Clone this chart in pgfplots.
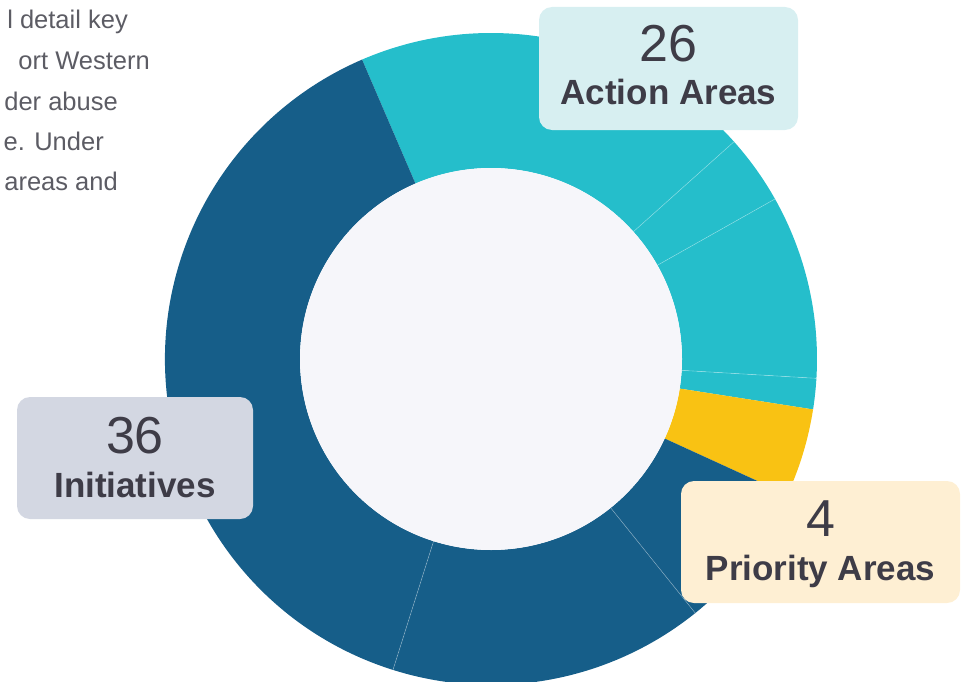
\documentclass[border=0pt]{standalone}
\usepackage{fontspec}
\setmainfont{Liberation Sans}
\usepackage{pgfplots}
\usepackage{pgfplotstable}
\pgfplotsset{compat=1.18}
\definecolor{bluec}{HTML}{165E89}
\definecolor{tealc}{HTML}{25BECB}
\definecolor{yelc}{HTML}{F9C213}
\definecolor{innerc}{HTML}{F6F6FA}
\definecolor{boxA}{HTML}{D7EFF1}
\definecolor{boxI}{HTML}{D3D7E2}
\definecolor{boxP}{HTML}{FEEFD3}
\definecolor{txtc}{HTML}{3E3C47}
\definecolor{parac}{HTML}{5C5C64}

% segment sizes in degrees, clockwise from the top boundary (113.3 deg)
\pgfplotstableread{
value color
71.5 tealc
12.4 tealc
32.8 tealc
5.5 tealc
15.7 yelc
26.6 bluec
56.3 bluec
139.2 bluec
}\segs

\begin{document}
\begin{tikzpicture}
\clip (0,0) rectangle (964bp,682bp);
\begin{axis}[
  at={(0,0)}, anchor=south west,
  scale only axis, width=964bp, height=682bp,
  xmin=0, xmax=964, ymin=0, ymax=682, y dir=reverse,
  hide axis, clip=false,
]
\pgfplotsextra{
  \pgfplotstablegetrowsof{\segs}
  \pgfmathtruncatemacro\nrows{\pgfplotsretval-1}
  \gdef\cur{113.3}
  \gdef\prevc{none}
  \foreach \i in {0,...,\nrows}{
    \pgfplotstablegetelem{\i}{value}\of\segs
    \let\v\pgfplotsretval
    \pgfplotstablegetelem{\i}{color}\of\segs
    \edef\c{\pgfplotsretval}
    \pgfmathsetmacro\nxt{\cur-\v}
    \fill[\c] (axis cs:491,359) ++(\cur:326bp)
      arc[start angle=\cur, end angle=\nxt, radius=326bp]
      -- ++(\nxt+180:135bp)
      arc[start angle=\nxt, end angle=\cur, radius=191bp] -- cycle;
    \ifx\c\prevc
      \draw[white, opacity=0.35, line width=0.6bp] (axis cs:491,359) ++(\cur:191bp) -- ++(\cur:135bp);
    \fi
    \xdef\cur{\nxt}
    \xdef\prevc{\c}
  }
  \fill[innerc] (axis cs:491,359) circle[radius=191bp];
  % label boxes
  \fill[boxA, rounded corners=13bp] (axis cs:539,7) rectangle (axis cs:798,130);
  \fill[boxI, rounded corners=13bp] (axis cs:17,397) rectangle (axis cs:253,519);
  \fill[boxP, rounded corners=13bp] (axis cs:681,481) rectangle (axis cs:960,603);
  \node[anchor=base, inner sep=0, text=txtc, font=\fontsize{52bp}{60bp}\selectfont] at (axis cs:668.5,62) {26};
  \node[anchor=base, inner sep=0, text=txtc, font=\fontsize{35bp}{40bp}\selectfont\bfseries] at (axis cs:668.5,104) {Action Areas};
  \node[anchor=base, inner sep=0, text=txtc, font=\fontsize{52bp}{60bp}\selectfont] at (axis cs:135,453) {36};
  \node[anchor=base, inner sep=0, text=txtc, font=\fontsize{35bp}{40bp}\selectfont\bfseries] at (axis cs:135,497) {Initiatives};
  \node[anchor=base, inner sep=0, text=txtc, font=\fontsize{52bp}{60bp}\selectfont] at (axis cs:820.5,536) {4};
  \node[anchor=base, inner sep=0, text=txtc, font=\fontsize{35bp}{40bp}\selectfont\bfseries] at (axis cs:820.5,580) {Priority Areas};
  % visible part of the paragraph (cut off by the left edge in the reference)
  \node[anchor=base east, inner sep=0, text=parac, font=\fontsize{25.5bp}{30bp}\selectfont] at (axis cs:128,29) {l detail key};
  \node[anchor=base east, inner sep=0, text=parac, font=\fontsize{25.5bp}{30bp}\selectfont] at (axis cs:150,70) {ort Western};
  \node[anchor=base east, inner sep=0, text=parac, font=\fontsize{25.5bp}{30bp}\selectfont] at (axis cs:118,110) {der abuse};
  \node[anchor=base east, inner sep=0, text=parac, font=\fontsize{25.5bp}{30bp}\selectfont] at (axis cs:104,150) {e. Under};
  \node[anchor=base east, inner sep=0, text=parac, font=\fontsize{25.5bp}{30bp}\selectfont] at (axis cs:118,190) {areas and};
}
\end{axis}
\end{tikzpicture}
\end{document}
